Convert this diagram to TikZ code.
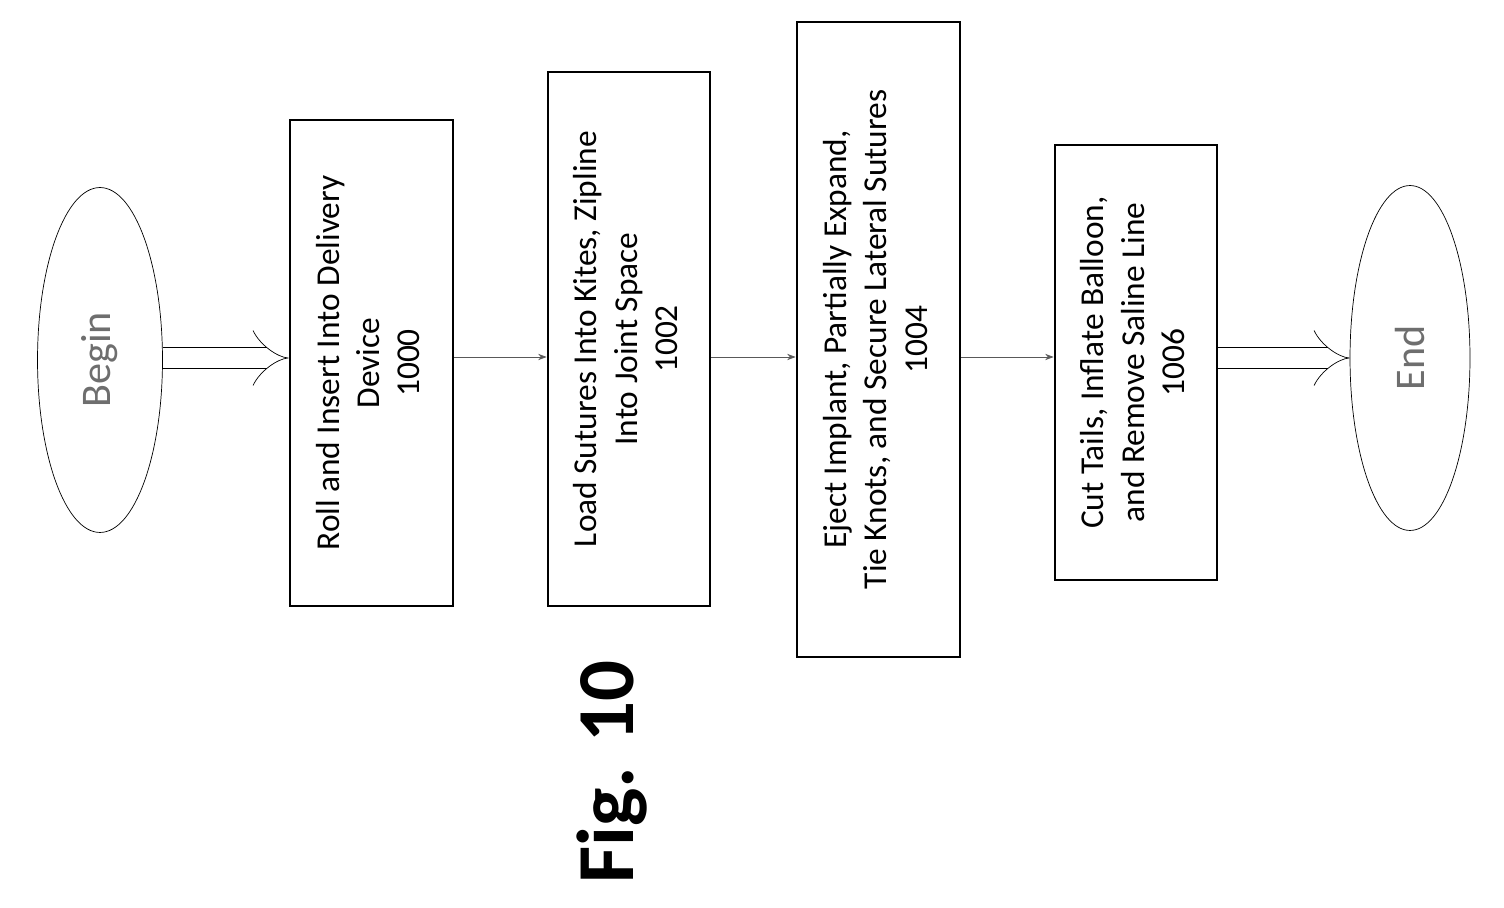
\documentclass[tikz,border=0pt]{standalone}
\usepackage{fontspec}
\setmainfont{Carlito}
\usetikzlibrary{positioning, arrows.meta, shapes}
\definecolor{termgray}{RGB}{110, 110, 110}

\begin{document}
\begin{tikzpicture}[
    x=0.02cm, y=-0.02cm,
    terminal/.style={ellipse, draw=black, thin, inner sep=0pt, text=termgray, font=\fontsize{24}{28}\selectfont},
    process/.style={rectangle, draw=black, line width=1.6pt, inner sep=0pt, font=\fontsize{19}{23}\selectfont},
    arrow/.style={-Stealth, gray!70!black, thin},
    hollow/.style={double, double distance=0.4cm, thin, -{Implies}}
]
\useasboundingbox (0,0) rectangle (1504,908);

% Terminals
\node[terminal, minimum width=2.5cm, minimum height=6.9cm] (begin) at (100, 360) {\rotatebox{90}{Begin}};
\node[terminal, minimum width=2.4cm, minimum height=6.9cm] (end) at (1410, 358) {\rotatebox{90}{End}};

% Steps
\node[process, minimum width=3.26cm, minimum height=9.72cm] (roll) at (371.5, 363)
    {\rotatebox{90}{\begin{tabular}{c}Roll and Insert Into Delivery\\Device\\1000\end{tabular}}};
\node[process, minimum width=3.24cm, minimum height=10.68cm] (load) at (629, 339)
    {\rotatebox{90}{\begin{tabular}{c}Load Sutures Into Kites, Zipline\\Into Joint Space\\1002\end{tabular}}};
\node[process, minimum width=3.26cm, minimum height=12.7cm] (eject) at (878.5, 339.5)
    {\rotatebox{90}{\begin{tabular}{c}Eject Implant,\ Partially Expand,\\Tie Knots, and Secure Lateral Sutures\\1004\end{tabular}}};
\node[process, minimum width=3.24cm, minimum height=8.7cm] (cut) at (1136, 362.5)
    {\rotatebox{90}{\begin{tabular}{c}Cut Tails, Inflate Balloon,\\and Remove Saline Line\\1006\end{tabular}}};

% Figure label
\node[font=\fontsize{46}{55}\selectfont\bfseries] (fig) at (612, 772) {\rotatebox{90}{Fig. 10}};

% Arrows
\draw[hollow] (begin.east |- 0,358) -- (roll.west |- 0,358);
\draw[arrow] (roll.east |- 0,357) -- (load.west |- 0,357);
\draw[arrow] (load.east |- 0,357) -- (eject.west |- 0,357);
\draw[arrow] (eject.east |- 0,357) -- (cut.west |- 0,357);
\draw[hollow] (cut.east |- 0,358) -- (end.west |- 0,358);

\end{tikzpicture}
\end{document}
